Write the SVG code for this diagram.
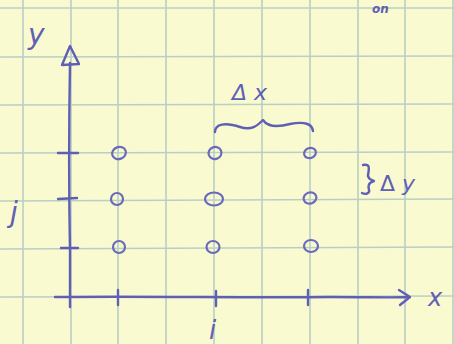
<svg xmlns="http://www.w3.org/2000/svg" width="454" height="344" viewBox="0 0 454 344">
<defs>
<style>
.ink{fill:none;stroke:#5f5fb5;stroke-width:2.4;stroke-linecap:round;stroke-linejoin:round}
.pt{fill:none;stroke:#6a6abd;stroke-width:2.2}
.grid{stroke:#b9cfc4;stroke-width:1.6}
.lbl{font-family:"DejaVu Sans",sans-serif;fill:#5f5fb5;font-style:italic}
</style>
</defs>
<rect width="454" height="344" fill="#fafad0"/>
<g id="grid" class="grid">
<line x1="23" y1="0" x2="23" y2="344"/>
<line x1="71" y1="0" x2="71" y2="344"/>
<line x1="118" y1="0" x2="118" y2="344"/>
<line x1="166" y1="0" x2="166" y2="344"/>
<line x1="214" y1="0" x2="214" y2="344"/>
<line x1="262" y1="0" x2="262" y2="344"/>
<line x1="310" y1="0" x2="310" y2="344"/>
<line x1="358" y1="0" x2="358" y2="344"/>
<line x1="405" y1="0" x2="405" y2="344"/>
<line x1="453" y1="0" x2="453" y2="344"/>
<line x1="0" y1="8" x2="454" y2="8"/>
<line x1="0" y1="57" x2="454" y2="56"/>
<line x1="0" y1="105" x2="454" y2="104"/>
<line x1="0" y1="153" x2="454" y2="152"/>
<line x1="0" y1="201" x2="454" y2="199"/>
<line x1="0" y1="249" x2="454" y2="247"/>
<line x1="0" y1="297" x2="454" y2="296"/>
</g>
<text x="372" y="13" class="lbl" font-size="12" font-weight="bold">on</text>
<g id="connectors">
<path id="y-axis" class="ink" d="M70,63 C69,120 69,200 70,250 C70,280 70,295 70,307"/>
<path class="ink" d="M70,46 L62,65 L79,64 Z"/>
<path id="x-axis" class="ink" d="M55,297 C150,296 250,298 330,297 C370,297 395,298 408,297"/>
<path class="ink" d="M399,290 L410,297 L400,305"/>
<path class="ink" d="M58,153 L78,153 M58,199 L77,198 M61,248 L78,248"/>
<path class="ink" d="M118,290 L118,305 M216,291 L216,306 M308,290 L308,305"/>
<path id="brace-dx" class="ink" d="M215,132 C215,124 225,122 240,127 C252,131 258,125 263,120 C267,126 275,128 290,124 C305,121 312,124 313,131"/>
<path id="brace-dy" class="ink" d="M363,165 C372,163 368,172 368,176 C369,180 372,180 374,181 C368,183 368,186 369,190 C370,193 366,195 362,193"/>
</g>
<g id="points">
<ellipse class="pt" cx="119" cy="153" rx="7" ry="6" transform="rotate(-20 119 153)"/>
<ellipse class="pt" cx="215" cy="153" rx="6.5" ry="6" transform="rotate(-20 215 153)"/>
<ellipse class="pt" cx="310" cy="153" rx="6" ry="5" transform="rotate(-20 310 153)"/>
<ellipse class="pt" cx="117" cy="199" rx="6" ry="6"/>
<ellipse class="pt" cx="214" cy="199" rx="9" ry="6.5"/>
<ellipse class="pt" cx="310" cy="198" rx="6.5" ry="5.5" transform="rotate(-20 310 198)"/>
<ellipse class="pt" cx="119" cy="247" rx="6" ry="6"/>
<ellipse class="pt" cx="213" cy="247" rx="6.5" ry="6"/>
<ellipse class="pt" cx="311" cy="246" rx="7" ry="6"/>
</g>
<g id="labels">
<text x="28" y="44" class="lbl" font-size="28">y</text>
<text x="10" y="222" class="lbl" font-size="28">j</text>
<text x="209" y="339" class="lbl" font-size="26">i</text>
<text x="428" y="306" class="lbl" font-size="24">x</text>
<text x="232" y="100" class="lbl" font-size="22" font-style="normal">Δ x</text>
<text x="380" y="191" class="lbl" font-size="22"><tspan font-style="normal">Δ</tspan> y</text>
</g>
</svg>
